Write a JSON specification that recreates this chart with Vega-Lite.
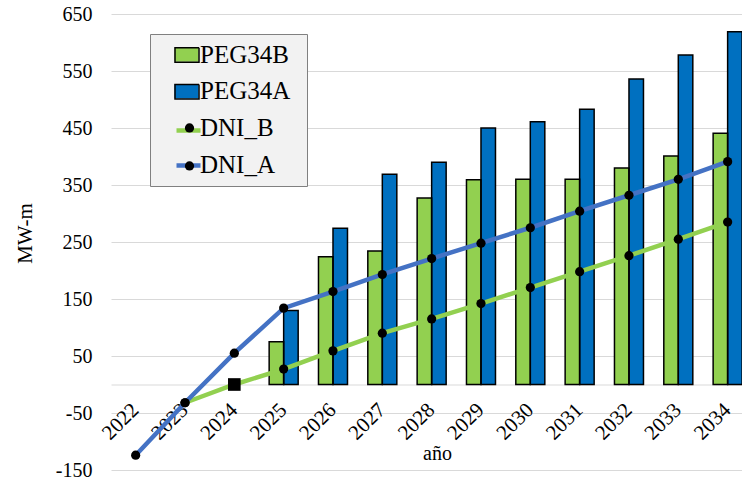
{
  "$schema": "https://vega.github.io/schema/vega-lite/v6.json",
  "width": 631,
  "height": 456,
  "autosize": {"type": "none"},
  "padding": {"left": 111, "top": 14, "right": 0, "bottom": 14},
  "background": "white",
  "config": {"view": {"stroke": null}, "font": "Liberation Serif, Times New Roman, serif"},
  "data": {"values": [
    {"year": "2025", "series": "PEG34B", "value": 75},
    {"year": "2026", "series": "PEG34B", "value": 224},
    {"year": "2027", "series": "PEG34B", "value": 234},
    {"year": "2028", "series": "PEG34B", "value": 327},
    {"year": "2029", "series": "PEG34B", "value": 359},
    {"year": "2030", "series": "PEG34B", "value": 360},
    {"year": "2031", "series": "PEG34B", "value": 360},
    {"year": "2032", "series": "PEG34B", "value": 380},
    {"year": "2033", "series": "PEG34B", "value": 401},
    {"year": "2034", "series": "PEG34B", "value": 441},
    {"year": "2025", "series": "PEG34A", "value": 130},
    {"year": "2026", "series": "PEG34A", "value": 274},
    {"year": "2027", "series": "PEG34A", "value": 369},
    {"year": "2028", "series": "PEG34A", "value": 390},
    {"year": "2029", "series": "PEG34A", "value": 450},
    {"year": "2030", "series": "PEG34A", "value": 461},
    {"year": "2031", "series": "PEG34A", "value": 483},
    {"year": "2032", "series": "PEG34A", "value": 536},
    {"year": "2033", "series": "PEG34A", "value": 578},
    {"year": "2034", "series": "PEG34A", "value": 619},
    {"year": "2023", "series": "DNI_B", "value": -32},
    {"year": "2024", "series": "DNI_B", "value": 0},
    {"year": "2025", "series": "DNI_B", "value": 27},
    {"year": "2026", "series": "DNI_B", "value": 59},
    {"year": "2027", "series": "DNI_B", "value": 90},
    {"year": "2028", "series": "DNI_B", "value": 115},
    {"year": "2029", "series": "DNI_B", "value": 142},
    {"year": "2030", "series": "DNI_B", "value": 170},
    {"year": "2031", "series": "DNI_B", "value": 198},
    {"year": "2032", "series": "DNI_B", "value": 226},
    {"year": "2033", "series": "DNI_B", "value": 255},
    {"year": "2034", "series": "DNI_B", "value": 285},
    {"year": "2022", "series": "DNI_A", "value": -124},
    {"year": "2023", "series": "DNI_A", "value": -32},
    {"year": "2024", "series": "DNI_A", "value": 55},
    {"year": "2025", "series": "DNI_A", "value": 134},
    {"year": "2026", "series": "DNI_A", "value": 163},
    {"year": "2027", "series": "DNI_A", "value": 193},
    {"year": "2028", "series": "DNI_A", "value": 221},
    {"year": "2029", "series": "DNI_A", "value": 248},
    {"year": "2030", "series": "DNI_A", "value": 275},
    {"year": "2031", "series": "DNI_A", "value": 304},
    {"year": "2032", "series": "DNI_A", "value": 332},
    {"year": "2033", "series": "DNI_A", "value": 360},
    {"year": "2034", "series": "DNI_A", "value": 391}
  ]},
  "encoding": {
    "x": {
      "field": "year", "type": "ordinal",
      "scale": {"domain": ["2022","2023","2024","2025","2026","2027","2028","2029","2030","2031","2032","2033","2034"], "range": [0, 641.3], "paddingInner": 0.412, "paddingOuter": 0.206},
      "axis": {
        "title": "año", "titleFont": "Liberation Serif", "titleFontSize": 20, "titleFontWeight": "normal", "titleColor": "black",
        "titleX": 326, "titleY": 75, "titleAlign": "center", "titleBaseline": "alphabetic",
        "labelAngle": -45, "labelAlign": "right", "labelBaseline": "middle", "labelPadding": 22,
        "labelFont": "Liberation Serif", "labelFontSize": 21, "labelColor": "black", "labelOverlap": false, "labelBound": false, "labelFlush": false,
        "ticks": false, "domainColor": "#d9d9d9", "domainWidth": 1, "offset": -85.5, "grid": false
      }
    },
    "y": {
      "field": "value", "type": "quantitative",
      "scale": {"domain": [-150, 650], "nice": false, "zero": false},
      "axis": {
        "title": "MW-m", "values": [-150, -50, 50, 150, 250, 350, 450, 550, 650],
        "labelExpr": "datum.value < 0 ? '-' + abs(datum.value) : '' + datum.value",
        "grid": true, "gridColor": "#d9d9d9", "gridWidth": 1, "domain": false, "ticks": false,
        "labelPadding": 19, "labelFont": "Liberation Serif", "labelFontSize": 20, "labelColor": "black",
        "titleFont": "Liberation Serif", "titleFontSize": 21, "titleFontWeight": "normal", "titleColor": "black",
        "titleX": -86, "titleY": 219, "titleAngle": 270, "titleAlign": "center", "titleBaseline": "middle"
      }
    }
  },
  "layer": [
    {
      "transform": [{"filter": {"field": "series", "oneOf": ["PEG34B", "PEG34A"]}}],
      "mark": {"type": "bar", "clip": true},
      "encoding": {
        "y2": {"datum": 0},
        "xOffset": {"field": "series", "type": "nominal", "scale": {"domain": ["PEG34B", "PEG34A"]}},
        "color": {
          "field": "series", "type": "nominal",
          "scale": {"domain": ["PEG34B", "PEG34A", "DNI_B", "DNI_A"], "range": ["#92D050", "#0070C0", "transparent", "transparent"]},
          "legend": {
            "orient": "none", "legendX": 39, "legendY": 20, "title": " ", "titleOrient": "right", "titlePadding": 9,
            "titleFontSize": 25, "titleFont": "Liberation Serif", "zindex": 0,
            "fillColor": "#f2f2f2", "strokeColor": "#808080", "padding": 8,
            "symbolOffset": 16, "symbolSize": 576, "symbolType": "M-1,-0.6H1V0.6H-1Z",
            "symbolStrokeWidth": 0, "symbolOpacity": 1,
            "labelFont": "Liberation Serif", "labelFontSize": 25, "labelColor": "black",
            "labelOffset": 1, "rowPadding": 10.7, "labelLimit": 300
          }
        }
      }
    },
    {
      "transform": [{"filter": {"field": "series", "oneOf": ["PEG34B", "PEG34A"]}}],
      "mark": {"type": "bar", "clip": true, "filled": false, "color": "black", "strokeWidth": 1.5, "opacity": 1},
      "encoding": {
        "y2": {"datum": 0},
        "xOffset": {"field": "series", "type": "nominal", "scale": {"domain": ["PEG34B", "PEG34A"]}},
        "strokeDash": {
          "field": "series", "type": "nominal",
          "scale": {"domain": ["PEG34B", "PEG34A"], "range": [[1, 0], [1, 0]]},
          "legend": {
            "orient": "none", "legendX": 39, "legendY": 20, "title": null, "zindex": 1,
            "padding": 8, "symbolOffset": 16, "symbolSize": 576, "symbolType": "M-1,-0.6H1V0.6H-1Z",
            "symbolFillColor": "transparent", "symbolStrokeColor": "black", "symbolStrokeWidth": 1.5, "symbolOpacity": 1,
            "labelFont": "Liberation Serif", "labelFontSize": 25, "labelOpacity": 0, "labelExpr": "' '",
            "labelOffset": 1, "rowPadding": 10.7, "labelLimit": 300
          }
        }
      }
    },
    {
      "transform": [{"filter": {"field": "series", "oneOf": ["DNI_B", "DNI_A"]}}],
      "mark": {"type": "line", "strokeWidth": 4.5, "clip": true},
      "encoding": {
        "stroke": {
          "field": "series", "type": "nominal",
          "scale": {"domain": ["DNI_B", "DNI_A"], "range": ["#92D050", "#4472C4"]},
          "legend": {
            "orient": "none", "legendX": 39, "legendY": 94, "title": null, "zindex": 1,
            "padding": 8, "symbolOffset": 16, "symbolSize": 576, "symbolType": "stroke",
            "symbolStrokeWidth": 4.5, "symbolOpacity": 1,
            "labelFont": "Liberation Serif", "labelFontSize": 25, "labelOpacity": 0, "labelExpr": "' '",
            "labelOffset": 1, "rowPadding": 7, "labelLimit": 300
          }
        }
      }
    },
    {
      "transform": [
        {"filter": {"field": "series", "oneOf": ["DNI_B", "DNI_A"]}},
        {"filter": "!(datum.series == 'DNI_B' && datum.year == '2024')"}
      ],
      "mark": {"type": "point", "filled": true, "color": "black", "opacity": 1, "size": 85, "clip": true},
      "encoding": {
        "shape": {
          "field": "series", "type": "nominal",
          "scale": {"domain": ["DNI_A", "DNI_B"], "range": ["circle", "circle"]},
          "legend": {
            "orient": "none", "legendX": 39, "legendY": 93.4, "title": null, "zindex": 2,
            "padding": 8, "symbolOffset": 19, "symbolSize": 85, "symbolFillColor": "black",
            "symbolStrokeWidth": 0, "symbolOpacity": 1, "labelFont": "Liberation Serif", "labelFontSize": 25, "labelOpacity": 0, "labelExpr": "' '",
            "labelOffset": 1, "rowPadding": 12, "labelLimit": 300
          }
        }
      }
    },
    {
      "transform": [{"filter": "datum.series == 'DNI_B' && datum.year == '2024'"}],
      "mark": {"type": "square", "filled": true, "color": "black", "opacity": 1, "size": 160}
    }
  ]
}
